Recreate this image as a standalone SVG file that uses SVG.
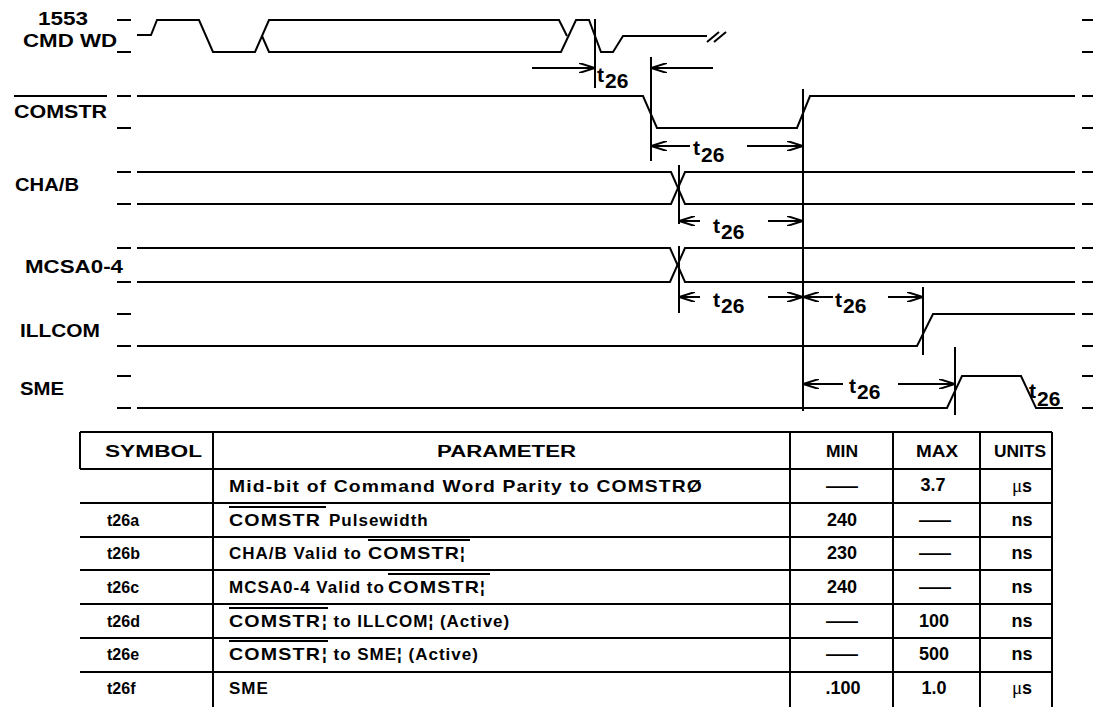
<svg xmlns="http://www.w3.org/2000/svg" width="1094" height="723" viewBox="0 0 1094 723">
<style>
  .w { fill: none; stroke: #000; stroke-width: 2; }
  .tk { stroke: #000; stroke-width: 2; }
  .lbl { font-family: "Liberation Sans", Arial, sans-serif; font-weight: bold; font-size: 18px; fill: #000; }
  .tt { font-family: "Liberation Sans", Arial, sans-serif; font-weight: bold; font-size: 21px; fill: #000; }
  .th { font-family: "Liberation Sans", Arial, sans-serif; font-weight: bold; font-size: 16px; fill: #000; }
  .sy { font-family: "Liberation Sans", Arial, sans-serif; font-weight: bold; font-size: 16px; fill: #000; }
  .td { font-family: "Liberation Sans", Arial, sans-serif; font-weight: bold; font-size: 17px; fill: #000; letter-spacing: 1px; }
  .tc { font-family: "Liberation Sans", Arial, sans-serif; font-weight: bold; font-size: 18px; fill: #000; text-anchor: middle; }
  .mu { font-family: "Liberation Serif", serif; font-weight: normal; font-size: 19px; }
  .grid { stroke: #000; stroke-width: 2; fill: none; }
</style>
<defs>
  <marker id="ah" viewBox="0 0 16 10" refX="16" refY="5" markerWidth="16" markerHeight="10" orient="auto" markerUnits="userSpaceOnUse">
    <path d="M0,0 L16,5 L0,10" fill="none" stroke="#000" stroke-width="2"/>
  </marker>
</defs>

<g id="ticks">
  <path class="tk" d="M117,20 H131 M117,52 H131 M117,96 H131 M117,128 H131 M117,172 H131 M117,204 H131 M117,248 H131 M117,282 H131 M117,314 H131 M117,346 H131 M117,376 H131 M117,408 H131"/>
  <path class="tk" d="M1082,20 H1093 M1082,52 H1093 M1082,96 H1093 M1082,128 H1093 M1082,172 H1093 M1082,204 H1093 M1082,248 H1093 M1082,282 H1093 M1082,314 H1093 M1082,346 H1093 M1082,376 H1093 M1082,408 H1093"/>
</g>

<g id="sig-cmdwd">
  <text class="lbl" x="38" y="25" textLength="50" lengthAdjust="spacingAndGlyphs">1553</text>
  <text class="lbl" x="23" y="47" textLength="94" lengthAdjust="spacingAndGlyphs">CMD WD</text>
  <path class="w" d="M137,35 H151 L157,20 H199 L213,52 H255 L269,20 H559 L567,36"/>
  <path class="w" d="M262,36 L269,52 H561 L576,20 H589 L601,52 H613 L623,36 H707"/>
  <path class="w" d="M707,42 L719,32 M714,42 L726,32"/>
</g>

<g id="sig-comstr">
  <text class="lbl" x="14" y="118" textLength="93" lengthAdjust="spacingAndGlyphs">COMSTR</text>
  <path class="tk" d="M14,96 H107"/>
  <path class="w" d="M137,96 H643 L657,128 H797 L810,96 H1075"/>
</g>

<g id="sig-chab">
  <text class="lbl" x="15" y="191" textLength="64" lengthAdjust="spacingAndGlyphs">CHA/B</text>
  <path class="w" d="M137,172 H671 L685,204 H1075"/>
  <path class="w" d="M137,204 H671 L685,172 H1075"/>
</g>

<g id="sig-mcsa">
  <text class="lbl" x="25" y="273" textLength="98" lengthAdjust="spacingAndGlyphs">MCSA0-4</text>
  <path class="w" d="M137,248 H670 L685,282 H1075"/>
  <path class="w" d="M137,282 H670 L685,248 H1075"/>
</g>

<g id="sig-illcom">
  <text class="lbl" x="20" y="337" textLength="80" lengthAdjust="spacingAndGlyphs">ILLCOM</text>
  <path class="w" d="M137,346 H917 L933,314 H1075"/>
</g>

<g id="sig-sme">
  <text class="lbl" x="20" y="395" textLength="44" lengthAdjust="spacingAndGlyphs">SME</text>
  <path class="w" d="M137,408 H947 L962,376 H1021 L1036,408 H1063"/>
</g>

<g id="connectors">
  <path class="tk" d="M595,19 V88 M651,57 V161 M803,89 V411 M679,165 V224 M679,246 V313 M923,287 V355 M955,347 V415"/>
  <path class="w" marker-end="url(#ah)" d="M532,68 H595"/>
  <path class="w" marker-end="url(#ah)" d="M713,68 H651"/>
  <path class="w" marker-end="url(#ah)" d="M690,146 H651"/>
  <path class="w" marker-end="url(#ah)" d="M747,146 H803"/>
  <path class="w" marker-end="url(#ah)" d="M700,221 H679"/>
  <path class="w" marker-end="url(#ah)" d="M768,221 H803"/>
  <path class="w" marker-end="url(#ah)" d="M700,297 H679"/>
  <path class="w" marker-end="url(#ah)" d="M768,297 H803"/>
  <path class="w" marker-end="url(#ah)" d="M833,297 H803"/>
  <path class="w" marker-end="url(#ah)" d="M888,297 H923"/>
  <path class="w" marker-end="url(#ah)" d="M843,384 H803"/>
  <path class="w" marker-end="url(#ah)" d="M898,384 H955"/>
  <text class="tt" x="597" y="82">t<tspan dx="1" dy="6">26</tspan></text>
  <text class="tt" x="693" y="155">t<tspan dx="1" dy="7">26</tspan></text>
  <text class="tt" x="713" y="233">t<tspan dx="1" dy="6">26</tspan></text>
  <text class="tt" x="713" y="307">t<tspan dx="1" dy="6">26</tspan></text>
  <text class="tt" x="835" y="307">t<tspan dx="1" dy="6">26</tspan></text>
  <text class="tt" x="849" y="393">t<tspan dx="1" dy="6">26</tspan></text>
  <text class="tt" x="1029" y="398">t<tspan dx="1" dy="8">26</tspan></text>
</g>

<g id="table">
  <path class="grid" d="M80,432 H1052 M80,469 H1052 M80,503 H1052 M80,537 H1052 M80,570 H1052 M80,604 H1052 M80,638 H1052 M80,672 H1052"/>
  <path class="grid" d="M80,432 V469 M213,432 V707 M790,432 V707 M893,432 V707 M980,432 V707 M1052,432 V707"/>
  <text class="th" x="105" y="457" textLength="97" lengthAdjust="spacingAndGlyphs">SYMBOL</text>
  <text class="th" x="437" y="457" textLength="139" lengthAdjust="spacingAndGlyphs">PARAMETER</text>
  <text class="th" x="826" y="457" textLength="32" lengthAdjust="spacingAndGlyphs">MIN</text>
  <text class="th" x="916" y="457" textLength="42" lengthAdjust="spacingAndGlyphs">MAX</text>
  <text class="th" x="994" y="457" textLength="52" lengthAdjust="spacingAndGlyphs">UNITS</text>

  <text class="td" x="229" y="492" textLength="474" lengthAdjust="spacingAndGlyphs">Mid-bit of Command Word Parity to COMSTRØ</text>
  <text class="tc" x="842" y="492" textLength="32" lengthAdjust="spacingAndGlyphs">—</text>
  <text class="tc" x="933" y="491">3.7</text>
  <text class="tc" x="1022" y="492"><tspan class="mu">μ</tspan>s</text>

  <text class="sy" x="107" y="526">t26a</text>
  <text class="td" x="229" y="526" textLength="92" lengthAdjust="spacingAndGlyphs">COMSTR</text>
  <text class="td" x="329" y="526">Pulsewidth</text>
  <path class="tk" d="M229,507 H326"/>
  <text class="tc" x="842" y="526">240</text>
  <text class="tc" x="935" y="526" textLength="32" lengthAdjust="spacingAndGlyphs">—</text>
  <text class="tc" x="1022" y="526">ns</text>

  <text class="sy" x="107" y="559">t26b</text>
  <text class="td" x="229" y="559">CHA/B Valid to</text>
  <text class="td" x="368" y="559"><tspan textLength="92" lengthAdjust="spacingAndGlyphs">COMSTR</tspan>¦</text>
  <path class="tk" d="M368,540 H470"/>
  <text class="tc" x="842" y="559">230</text>
  <text class="tc" x="935" y="559" textLength="32" lengthAdjust="spacingAndGlyphs">—</text>
  <text class="tc" x="1022" y="559">ns</text>

  <text class="sy" x="107" y="593">t26c</text>
  <text class="td" x="229" y="593">MCSA0-4 Valid to</text>
  <text class="td" x="388" y="593"><tspan textLength="92" lengthAdjust="spacingAndGlyphs">COMSTR</tspan>¦</text>
  <path class="tk" d="M388,574 H490"/>
  <text class="tc" x="842" y="593">240</text>
  <text class="tc" x="935" y="593" textLength="32" lengthAdjust="spacingAndGlyphs">—</text>
  <text class="tc" x="1022" y="593">ns</text>

  <text class="sy" x="107" y="627">t26d</text>
  <text class="td" x="229" y="627" textLength="92" lengthAdjust="spacingAndGlyphs">COMSTR</text>
  <text class="td" x="322" y="627">¦ to ILLCOM¦ (Active)</text>
  <path class="tk" d="M229,608 H328"/>
  <text class="tc" x="842" y="627" textLength="32" lengthAdjust="spacingAndGlyphs">—</text>
  <text class="tc" x="934" y="627">100</text>
  <text class="tc" x="1022" y="627">ns</text>

  <text class="sy" x="107" y="660">t26e</text>
  <text class="td" x="229" y="660" textLength="92" lengthAdjust="spacingAndGlyphs">COMSTR</text>
  <text class="td" x="322" y="660">¦ to SME¦ (Active)</text>
  <path class="tk" d="M229,641 H328"/>
  <text class="tc" x="842" y="660" textLength="32" lengthAdjust="spacingAndGlyphs">—</text>
  <text class="tc" x="934" y="660">500</text>
  <text class="tc" x="1022" y="660">ns</text>

  <text class="sy" x="107" y="694">t26f</text>
  <text class="td" x="229" y="694">SME</text>
  <text class="tc" x="843" y="694">.100</text>
  <text class="tc" x="934" y="694">1.0</text>
  <text class="tc" x="1022" y="694"><tspan class="mu">μ</tspan>s</text>
</g>
</svg>
